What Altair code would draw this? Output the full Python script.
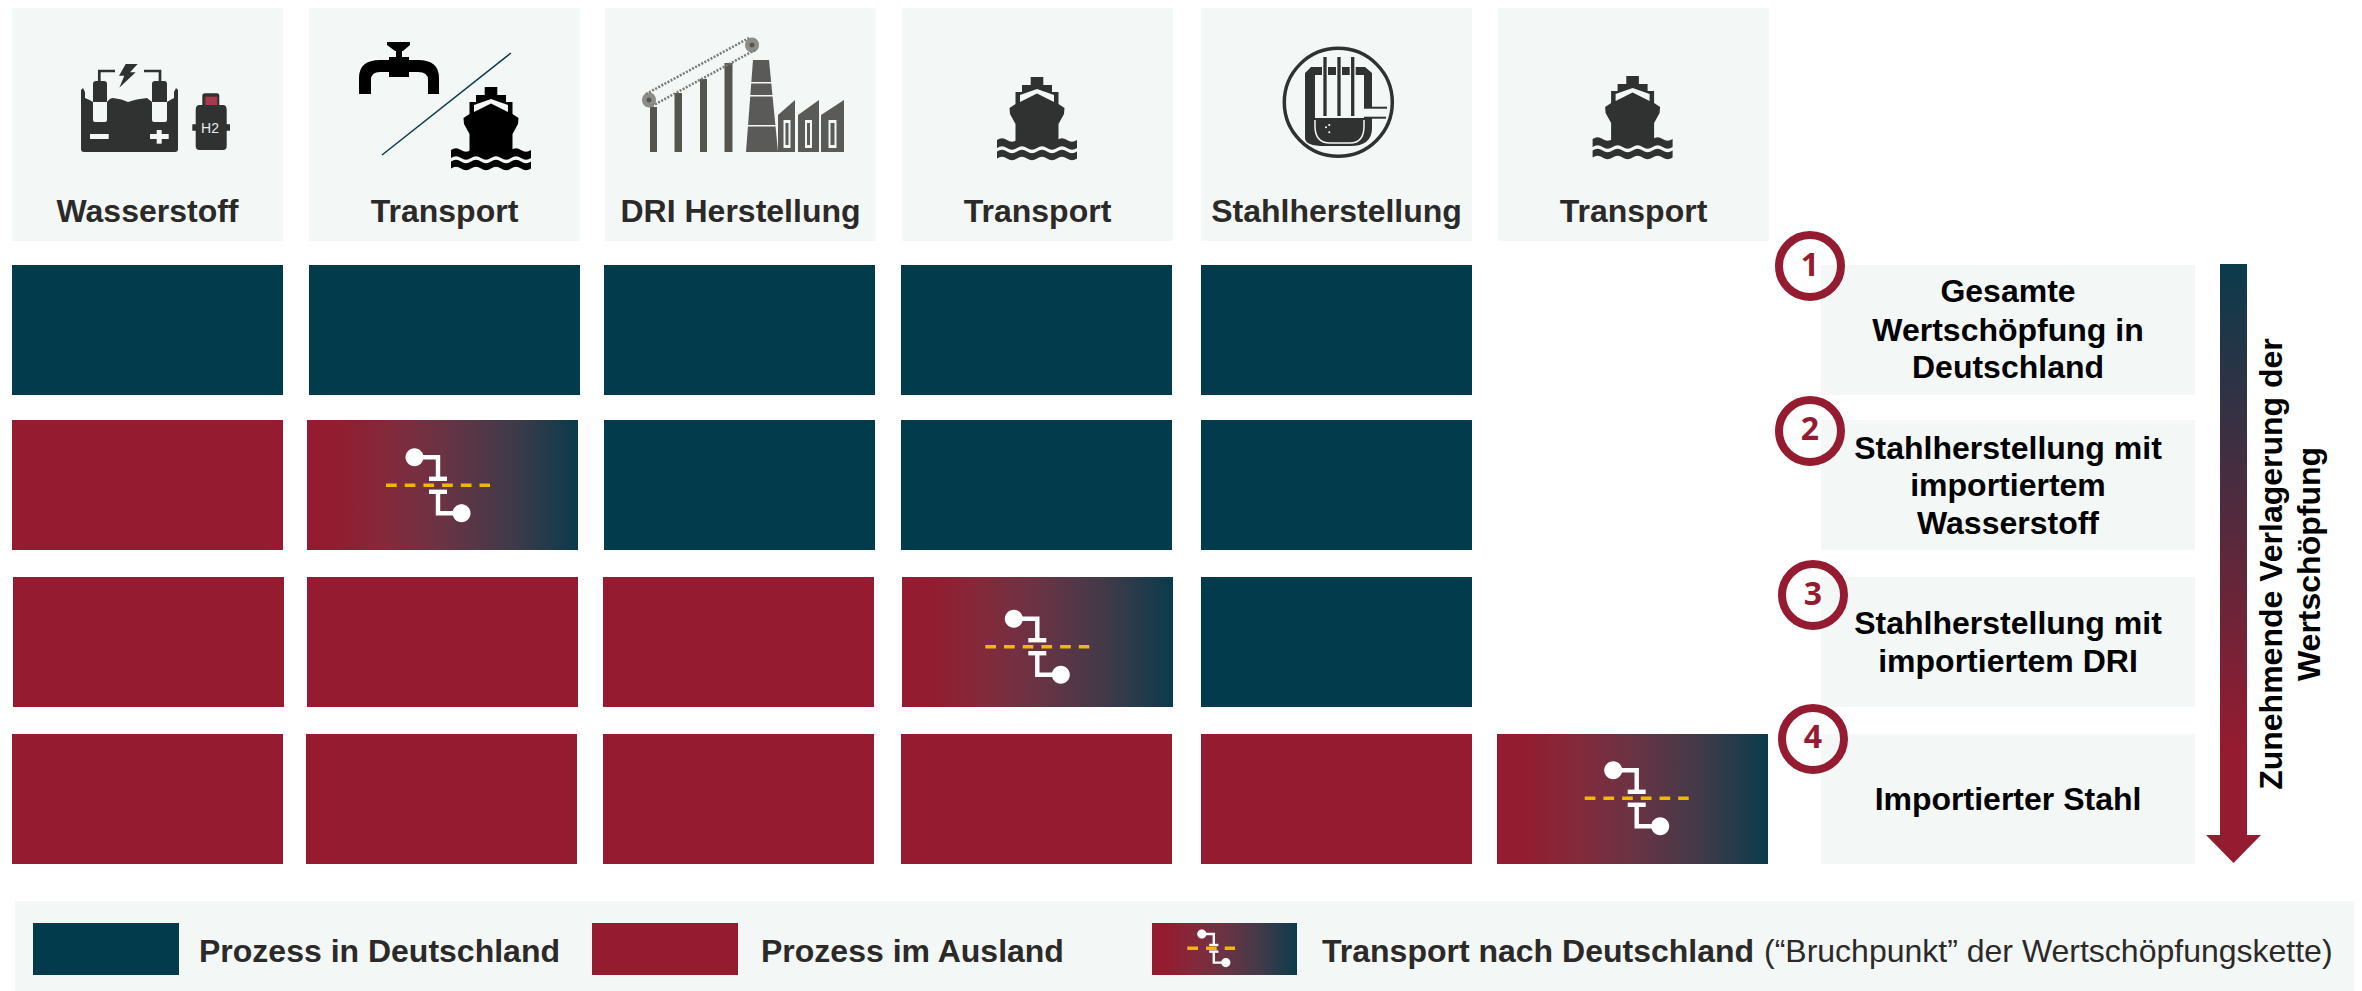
import re
import altair as alt
import pandas as pd

# ---------- content ----------
HEADERS = ["Wasserstoff", "Transport", "DRI Herstellung", "Transport", "Stahlherstellung", "Transport"]
STATES = [
    ["D", "D", "D", "D", "D", ""],
    ["A", "T", "D", "D", "D", ""],
    ["A", "A", "A", "T", "D", ""],
    ["A", "A", "A", "A", "A", "T"],
]
SCENARIO_NUMBERS = ["1", "2", "3", "4"]
SCENARIO_LINES = [
    ["Gesamte", "Wertschöpfung in", "Deutschland"],
    ["Stahlherstellung mit", "importiertem", "Wasserstoff"],
    ["Stahlherstellung mit", "importiertem DRI"],
    ["Importierter Stahl"],
]
ARROW_LINES = ["Zunehmende Verlagerung der", "Wertschöpfung"]
LEGEND_BOLD = ["Prozess in Deutschland", "Prozess im Ausland", "Transport nach Deutschland"]
LEGEND_NOTE = "(“Bruchpunkt” der Wertschöpfungskette)"

# ---------- layout (page pixels) ----------
HEAD_X = [12, 309, 605, 902, 1201, 1498]
CELL_X = [
    [12, 309, 604, 901, 1201, 1498],
    [12, 307, 604, 901, 1201, 1498],
    [13, 307, 603, 902, 1201, 1498],
    [12, 306, 603, 901, 1201, 1497],
]
ROW_Y = [265, 420, 577, 734]
CELL_W, CELL_H = 271, 130
BOX_X = (1821, 2195)
BOX_BASE = [[301.5, 341, 378], [458.5, 496, 534], [634, 672], [810]]
CIRCLES = [(1810, 266, 276.3), (1810, 431, 440.4), (1813, 595, 604.6), (1813, 739, 747.7)]
BREAKS = [(386, 485.3, 1.0), (985.3, 646.7, 1.0), (1584.7, 798.3, 1.0), (1187.3, 948.3, 0.51)]

TEAL = "#023B4C"
RED = "#951B30"
PANEL = "#F3F7F6"
INK = "#2B2A29"
DARK = "#2F3230"
GREY = "#55554F"
YELLOW = "#F0B800"

W, H = 2346, 983
sx = alt.Scale(domain=[8, 2354], zero=False, nice=False)
sy = alt.Scale(domain=[8, 991], zero=False, nice=False, reverse=True)
X = alt.X("x:Q", scale=sx, axis=None)
Y = alt.Y("y:Q", scale=sy, axis=None)
X2 = alt.X2("x2:Q")
Y2 = alt.Y2("y2:Q")


def rects(rows, color):
    return alt.Chart(pd.DataFrame(rows)).mark_rect(fill=color, strokeWidth=0).encode(x=X, x2=X2, y=Y, y2=Y2)


def h_grad():
    return {"gradient": "linear", "x1": 0, "x2": 1, "y1": 0, "y2": 0,
            "stops": [{"offset": 0, "color": RED}, {"offset": 0.1, "color": "#931C30"},
                      {"offset": 0.3, "color": "#832A3B"}, {"offset": 0.5, "color": "#6A3344"},
                      {"offset": 0.75, "color": "#413A49"}, {"offset": 1, "color": "#0B3B4C"}]}


def v_grad(c0, c1):
    return {"gradient": "linear", "x1": 0, "x2": 0, "y1": 0, "y2": 1,
            "stops": [{"offset": 0, "color": c0}, {"offset": 0.85, "color": c1}, {"offset": 1, "color": c1}]}


def box(x0, y0, x1, y1):
    return {"x": x0, "x2": x1, "y": y0, "y2": y1}


def text_layer(rows, size, weight="bold", color=INK, align="center", font="Liberation Sans", angle=0):
    return alt.Chart(pd.DataFrame(rows)).mark_text(
        font=font, fontSize=size, fontWeight=weight, color=color, align=align,
        baseline="alphabetic", angle=angle).encode(x=X, y=Y, text="t:N")


# ---------- glyph helpers ----------
def loc(d, ax, ay):
    """Turn a path into coordinates relative to its anchor."""
    n = [0]

    def f(m):
        v = float(m.group(0)) - (ax if n[0] % 2 == 0 else ay)
        n[0] += 1
        return f"{v:.2f}"
    return re.sub(r"-?\d+\.?\d*", f, d)


def ell(cx, cy, rx, ry=None):
    ry = rx if ry is None else ry
    kx, ky = rx * 0.5523, ry * 0.5523
    return (f"M{cx-rx} {cy} C{cx-rx} {cy-ky} {cx-kx} {cy-ry} {cx} {cy-ry} "
            f"C{cx+kx} {cy-ry} {cx+rx} {cy-ky} {cx+rx} {cy} "
            f"C{cx+rx} {cy+ky} {cx+kx} {cy+ry} {cx} {cy+ry} "
            f"C{cx-kx} {cy+ry} {cx-rx} {cy+ky} {cx-rx} {cy} Z")


def rc(x0, y0, x1, y1):
    return f"M{x0} {y0} L{x1} {y0} L{x1} {y1} L{x0} {y1} Z"


filled, stroked, dashed = [], [], []


def F(ax, ay, d, c):
    filled.append({"x": ax, "y": ay, "p": loc(d, ax, ay), "c": c})


def S(ax, ay, d, c, w):
    stroked.append({"x": ax, "y": ay, "p": loc(d, ax, ay), "c": c, "w": w})


def ship(cx, top, c):
    def pts(l):
        out = []
        for i, (px, py) in enumerate(l):
            out.append(("M" if i == 0 else "L") + f"{cx+px} {top+py}")
        return " ".join(out) + " Z"
    F(cx, top + 40, pts([(-6.3, 0), (6.3, 0), (6.3, 8), (15, 8), (15, 15), (21.5, 15), (21.5, 27), (27.5, 31),
                         (27, 37), (21.5, 47), (21.5, 66), (-21.5, 66), (-21.5, 47), (-27, 37), (-27.5, 31),
                         (-21.5, 27), (-21.5, 15), (-15, 15), (-15, 8), (-6.3, 8)]), c)
    F(cx, top + 40, pts([(0, 12), (17, 18), (17, 25), (0, 16.5), (-17, 25), (-17, 18)]), PANEL)

    def band(y0, y1):
        d = f"M{cx-40} {top+y0}"
        for k in range(8):
            sgn = -3.5 if k % 2 == 0 else 3.5
            d += f" Q{cx-35+10*k} {top+y0+sgn} {cx-30+10*k} {top+y0}"
        d += f" L{cx+40} {top+y1}"
        for k in range(8):
            sgn = 3.5 if k % 2 == 0 else -3.5
            d += f" Q{cx+35-10*k} {top+y1+sgn} {cx+30-10*k} {top+y1}"
        return d + " Z"
    F(cx, top + 40, band(63, 71), c)
    F(cx, top + 40, band(74.5, 81.5), c)


# Icon 1: electrolyser + bottle
a = (147, 110)
F(*a, "M81 90 L83 88 L85 92 L85 98 Q90 100 93 102 L107 102 Q110 98 113 98 Q122 99 128 102 Q136 99 147 98 "
      "L152 102 L167 102 Q170 100 174 98 L174 92 L176 88 L178 90 L178 149 Q178 152 175 152 L84 152 Q81 152 81 149 Z", DARK)
F(*a, "M93 102 L107 102 L107 120 Q107 122 105 122 L95 122 Q93 122 93 120 Z", PANEL)
F(*a, "M152 102 L167 102 L167 120 Q167 122 165 122 L154 122 Q152 122 152 120 Z", PANEL)
F(*a, "M93 84 Q93 81 96 81 L104 81 Q107 81 107 84 L107 102 L93 102 Z", DARK)
F(*a, "M152 84 Q152 81 155 81 L164 81 Q167 81 167 84 L167 102 L152 102 Z", DARK)
S(*a, "M99.3 81 L99.3 71 L115 71", DARK, 2.7)
S(*a, "M160 81 L160 71 L144 71", DARK, 2.7)
F(*a, "M125.7 64 L137.7 64 L130 72.3 L135.7 72.3 L119.3 87.7 L124.3 75.7 L119 75.7 Z", DARK)
F(*a, rc(90, 134, 108.7, 139), PANEL)
F(*a, rc(150, 134, 168.7, 139), PANEL)
F(*a, rc(156.7, 130, 161.7, 143.7), PANEL)
F(*a, "M202.3 96 Q202.3 93.3 205 93.3 L217 93.3 Q219.3 93.3 219.3 96 L219.3 105 L223 105 Q226.7 105 226.7 110 "
      "L226.7 124.3 L230 124.3 L230 130.7 L226.7 130.7 L226.7 146 Q226.7 150 223 150 L199.5 150 Q195.7 150 195.7 146 "
      "L195.7 130.7 L192.3 130.7 L192.3 124.3 L195.7 124.3 L195.7 110 Q195.7 105 199.5 105 L202.3 105 Z", DARK)
F(*a, rc(205.3, 96.7, 217.3, 105), "#A8384A")

# Icon 2: tap / line / ship
a = (444, 110)
F(*a, "M359 94 L359 78 Q359 60 380 60 L418 60 Q439 60 439 78 L439 94 L428 94 L428 80 Q428 72 418 72 L380 72 "
      "Q371 72 371 80 L371 94 Z", "#000000")
F(*a, rc(389, 57, 409, 77), "#000000")
F(*a, rc(396, 49, 402, 57), "#000000")
F(*a, "M387 42 L410 42 L410 45 L403 51 L395 51 L387 45 Z", "#000000")
S(*a, "M382 155 L511 53", "#0B3B4C", 1.5)
ship(491, 87, "#000000")

# Icon 3: conveyor + plant
a = (740, 100)
for px0, px1, top in [(650, 657, 107), (674.5, 682, 93), (700, 707, 79), (724.5, 732.5, 63)]:
    F(*a, rc(px0, top, px1, 152), GREY)
F(*a, ell(649, 100, 7, 7.5), "#8C8C88")
F(*a, ell(752, 45, 7, 7.5), "#8C8C88")
F(*a, ell(649, 100, 2.5), GREY)
F(*a, ell(752, 45, 2.5), GREY)
dashed.append({"x": a[0], "y": a[1], "p": loc("M646 94 L749 38", *a), "c": "#7A7A76", "w": 2.5})
dashed.append({"x": a[0], "y": a[1], "p": loc("M652 106 L755 50", *a), "c": "#7A7A76", "w": 2.5})
F(*a, "M753 60 L769 60 L778 152 L746 152 Z", "#5A5A58")
for gap in (82, 95, 125):
    F(*a, rc(745, gap, 779, gap + 1.6), PANEL)
for px0, px1, wx0, wx1 in [(778, 795, 783.5, 790.5), (798, 819, 805, 812), (821, 844, 828.5, 836.5)]:
    F(*a, f"M{px0} 115 L{px1} 100 L{px1} 152 L{px0} 152 Z", "#5A5A58")
    F(*a, rc(wx0, 120, wx1, 148), PANEL)
    F(*a, rc(wx0 + 2, 123, wx1 - 2, 145), "#5A5A58")

# Icon 4 and 6: ship
ship(1037, 77, DARK)
ship(1632.6, 76, DARK)

# Icon 5: furnace
a = (1338, 103)
F(*a, "M1305 73 L1311 67 L1365 67 L1372 73 L1372 107 L1364 107 L1364 75 L1315 75 L1315 118 L1372 118 L1372 128 "
      "Q1372 146 1350 146 L1325 146 Q1305 146 1305 138 Z", DARK)
for bx, by in [(1330, 116.7), (1347, 114), (1329.3, 125), (1326, 127.3), (1329.3, 132.3)]:
    F(*a, ell(bx, by, 1), PANEL)
S(*a, "M1315 120 L1315 126 Q1315 143 1330 143 L1350 143 Q1364 143 1364 126 L1364 120", PANEL, 1.5)
S(*a, ell(1338.3, 102.3, 54), DARK, 3.5)
S(*a, "M1364 107.7 L1387 107.7", DARK, 2)
S(*a, "M1364 117.7 L1386 117.7", DARK, 2)
for ex in (1325, 1339, 1352.7):
    S(*a, f"M{ex} 57 L{ex} 118", PANEL, 6)
for ex in (1325, 1339, 1352.7):
    S(*a, f"M{ex} 57 L{ex} 116", DARK, 3.3)

# Break-point symbols
for bx, by, k in BREAKS:
    c1 = (bx + 28.5 * k, by - 28 * k)
    c2 = (bx + 75.5 * k, by + 28 * k)
    vx = bx + 52 * k
    lw = 4.4 if k == 1 else 2.4
    S(bx, by, f"M{c1[0]} {c1[1]} L{vx} {c1[1]} L{vx} {by-7*k}", "#FFFFFF", lw)
    S(bx, by, f"M{c2[0]} {c2[1]} L{vx} {c2[1]} L{vx} {by+7*k}", "#FFFFFF", lw)
    S(bx, by, f"M{vx-9*k} {by-6.5*k} L{vx+9*k} {by-6.5*k}", "#FFFFFF", lw)
    S(bx, by, f"M{vx-9*k} {by+6.5*k} L{vx+9*k} {by+6.5*k}", "#FFFFFF", lw)
    F(bx, by, ell(c1[0], c1[1], 9 * k), "#FFFFFF")
    F(bx, by, ell(c2[0], c2[1], 9 * k), "#FFFFFF")

# Arrow head
F(2233.5, 850, "M2206 835 L2261 835 L2233.5 863 Z", RED)

# ---------- tables ----------
head_rects = [box(HEAD_X[i], 4, HEAD_X[i] + CELL_W, 241) for i in range(6)]
scen_rects = [box(BOX_X[0], y, BOX_X[1], y + CELL_H) for y in ROW_Y]
teal_rects, red_rects, grad_rects = [], [], []
for r, row in enumerate(STATES):
    for c, st in enumerate(row):
        if not st:
            continue
        b = box(CELL_X[r][c], ROW_Y[r], CELL_X[r][c] + CELL_W, ROW_Y[r] + CELL_H)
        {"D": teal_rects, "A": red_rects, "T": grad_rects}[st].append(b)
teal_rects.append(box(33, 923, 179, 975))
red_rects.append(box(592, 923, 738, 975))
grad_rects.append(box(1152, 923, 1297, 975))

head_text = [{"x": HEAD_X[i] + CELL_W / 2, "y": 222, "t": HEADERS[i]} for i in range(6)]
scen_text = [{"x": sum(BOX_X) / 2, "y": y, "t": t}
             for lines, ys in zip(SCENARIO_LINES, BOX_BASE) for t, y in zip(lines, ys)]
num_text = [{"x": cx, "y": by, "t": n} for n, (cx, cy, by) in zip(SCENARIO_NUMBERS, CIRCLES)]
circle_rows = [{"x": cx, "y": cy} for cx, cy, by in CIRCLES]
arrow_text = [{"x": 2282, "y": 564, "t": ARROW_LINES[0]}, {"x": 2320, "y": 564, "t": ARROW_LINES[1]}]
leg_text = [{"x": 199, "y": 962, "t": LEGEND_BOLD[0]}, {"x": 761, "y": 962, "t": LEGEND_BOLD[1]},
            {"x": 1322, "y": 962, "t": LEGEND_BOLD[2]}]
dash_rows = [{"x": bx, "x2": bx + (104 if k == 1 else 47.7), "y": by} for bx, by, k in BREAKS]

# ---------- layers ----------
layers = [
    rects(head_rects + scen_rects + [box(15, 901, 2357, 991)], PANEL),
    rects(teal_rects, TEAL),
    rects(red_rects, RED),
    rects(grad_rects, h_grad()),
    rects([box(2220, 264, 2247, 836)], v_grad("#0B3B4C", RED)),
    alt.Chart(pd.DataFrame(filled)).mark_point(filled=True, opacity=1, strokeWidth=0).encode(
        x=X, y=Y, shape=alt.Shape("p:N", scale=None), fill=alt.Fill("c:N", scale=None),
        size=alt.value(4)),
    alt.Chart(pd.DataFrame(stroked)).mark_point(filled=False, opacity=1, fill=None).encode(
        x=X, y=Y, shape=alt.Shape("p:N", scale=None), stroke=alt.Stroke("c:N", scale=None),
        strokeWidth=alt.StrokeWidth("w:Q", scale=None), size=alt.value(4)),
    alt.Chart(pd.DataFrame(dashed)).mark_point(filled=False, opacity=1, strokeDash=[2, 1.5]).encode(
        x=X, y=Y, shape=alt.Shape("p:N", scale=None), stroke=alt.Stroke("c:N", scale=None),
        strokeWidth=alt.StrokeWidth("w:Q", scale=None), size=alt.value(4)),
    alt.Chart(pd.DataFrame(dash_rows)).mark_rule(color=YELLOW, strokeWidth=3.4, strokeDash=[10.7, 8]).encode(
        x=X, x2=X2, y=Y),
    alt.Chart(pd.DataFrame(circle_rows)).mark_point(filled=False, opacity=1, stroke=RED, strokeWidth=8, size=3844).encode(
        x=X, y=Y),
    text_layer([{"x": 210, "y": 133.3, "t": "H2"}], 14, weight="normal", color="#E8ECEB"),
    text_layer(head_text, 32),
    text_layer(scen_text, 32, color="#000000"),
    text_layer(num_text, 32, color=RED, font="Open Sans"),
    text_layer(arrow_text, 32, color="#000000", angle=270),
    text_layer(leg_text, 32, align="left"),
    text_layer([{"x": 1764, "y": 962, "t": LEGEND_NOTE}], 32, weight="normal", align="left"),
]

chart = alt.layer(*layers).properties(
    width=W, height=H, padding=0, background="#FFFFFF",
    autosize=alt.AutoSizeParams(type="none"),
).configure_view(strokeWidth=0)

chart.save("out.html", embed_options={"renderer": "svg", "actions": False})
